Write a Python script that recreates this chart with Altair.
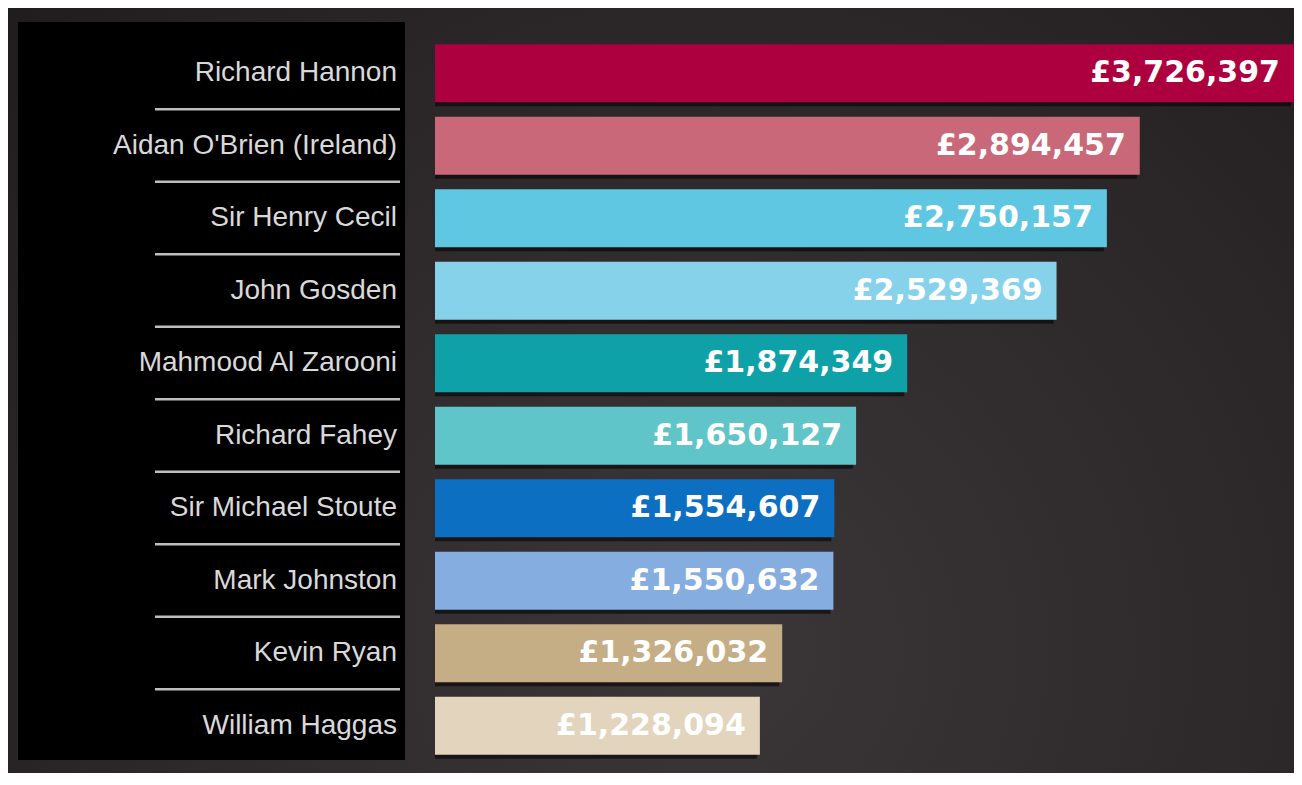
import altair as alt
import pandas as pd

trainers = [
    "Richard Hannon",
    "Aidan O'Brien (Ireland)",
    "Sir Henry Cecil",
    "John Gosden",
    "Mahmood Al Zarooni",
    "Richard Fahey",
    "Sir Michael Stoute",
    "Mark Johnston",
    "Kevin Ryan",
    "William Haggas",
]
prize_money = [3726397, 2894457, 2750157, 2529369, 1874349, 1650127, 1554607, 1550632, 1326032, 1228094]
bar_colors = ["#ad003f", "#c86879", "#5fc7e2", "#86d2ea", "#0ea1a8", "#5fc5c8",
              "#0c6fc1", "#85addf", "#c5ad85", "#e3d5bd"]

df = pd.DataFrame({"trainer": trainers, "prize": prize_money})
df["label"] = ["£{:,}".format(v) for v in prize_money]
sep_df = df.iloc[:-1]
bg_df = pd.DataFrame({"k": [0]})

W, H = 1286, 765
BASE = -197000

y_scale = alt.Scale(domain=trainers, range=[29, 754], paddingInner=0.2, paddingOuter=0.1)
x_scale = alt.Scale(domain=[BASE, 3571000], range=[427, W], clamp=True)
c_scale = alt.Scale(domain=trainers, range=bar_colors)

background = alt.Chart(bg_df).mark_rect(
    fill=alt.Gradient(
        gradient="radial",
        stops=[alt.GradientStop(color="#3b3637", offset=0),
               alt.GradientStop(color="#2a2627", offset=0.6),
               alt.GradientStop(color="#1b1819", offset=1)],
        x1=0.55, y1=0.7, x2=0.55, y2=0.7, r1=0, r2=0.85,
    )
).encode(x=alt.value(0), x2=alt.value(W), y=alt.value(0), y2=alt.value(H))

panel = alt.Chart(bg_df).mark_rect(color="#000000").encode(
    x=alt.value(10), x2=alt.value(397), y=alt.value(14), y2=alt.value(752)
)

separators = alt.Chart(sep_df).mark_rule(color="#bdbdbd", strokeWidth=2.5, yOffset=7).encode(
    y=alt.Y("trainer:N", scale=y_scale, axis=None, bandPosition=1),
    x=alt.value(147), x2=alt.value(392),
)

names = alt.Chart(df).mark_text(
    align="right", baseline="middle", font="Liberation Sans", fontSize=28, color="#d9d9d9"
).encode(
    y=alt.Y("trainer:N", scale=y_scale, axis=None),
    x=alt.value(389),
    text="trainer:N",
)

shadow = alt.Chart(df).mark_bar(color="#000000", opacity=0.55, xOffset=-3, yOffset=4).encode(
    y=alt.Y("trainer:N", scale=y_scale, axis=None),
    x=alt.X("prize:Q", scale=x_scale, axis=None),
    x2=alt.datum(BASE),
)

bars = alt.Chart(df).mark_bar().encode(
    y=alt.Y("trainer:N", scale=y_scale, axis=None),
    x=alt.X("prize:Q", scale=x_scale, axis=None),
    x2=alt.datum(BASE),
    color=alt.Color("trainer:N", scale=c_scale, legend=None),
)

values = alt.Chart(df).mark_text(
    align="right", baseline="middle", dx=-14, font="DejaVu Sans", fontWeight="bold",
    fontSize=30, color="#ffffff"
).encode(
    y=alt.Y("trainer:N", scale=y_scale, axis=None),
    x=alt.X("prize:Q", scale=x_scale, axis=None),
    text="label:N",
)

chart = alt.layer(background, panel, separators, names, shadow, bars, values).properties(
    width=W, height=H, autosize="none", padding=0, background="#2b2728"
).configure_view(stroke=None)

chart.save("out.html", embed_options={"renderer": "svg", "actions": False})
